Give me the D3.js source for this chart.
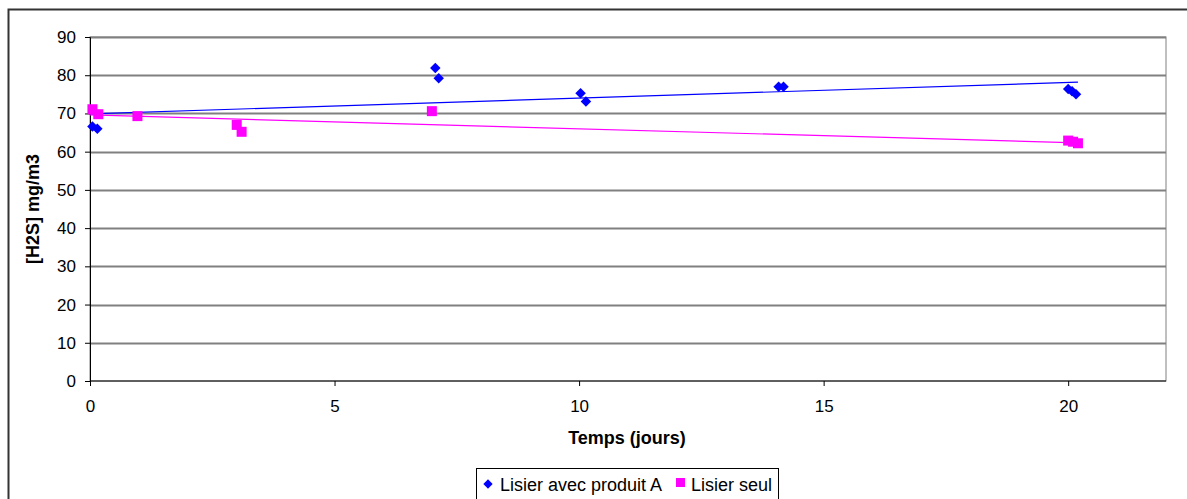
<!DOCTYPE html>
<html>
<head>
<meta charset="utf-8">
<script src="https://cdn.jsdelivr.net/npm/d3@7"></script>
<style>
  html, body { margin: 0; padding: 0; background: #fff; }
  svg { display: block; font-family: "Liberation Sans", Arial, sans-serif; }
</style>
</head>
<body>
<svg id="chart" width="1187" height="499"></svg>
<script>
// H2S concentration over time, slurry with product A vs slurry alone
const produitA_jours = [0.05, 0.15, 7.06, 7.13, 10.03, 10.14, 14.08, 14.18, 20.0, 20.08, 20.16];
const produitA_h2s   = [66.6, 66.0, 81.9, 79.2, 75.3, 73.1, 77.0, 77.0, 76.4, 75.8, 75.0];
const seul_jours = [0.05, 0.17, 0.97, 3.0, 3.1, 6.99, 20.0, 20.1, 20.2];
const seul_h2s   = [71.1, 69.8, 69.3, 67.0, 65.2, 70.6, 62.9, 62.6, 62.2];

// linear trend end points (day 0 and day 20.2)
const trendJours = [0, 20.2];
const produitA_trend = [69.9, 78.2];
const seul_trend = [69.6, 62.3];

const yTicks = [0, 10, 20, 30, 40, 50, 60, 70, 80, 90];
const xTicks = [0, 5, 10, 15, 20];

const seriesNames = ["Lisier avec produit A", "Lisier seul"];
const colors = ["#0000ff", "#ff00ff"];

const FONT = "Liberation Sans, Arial, sans-serif";
const svg = d3.select("#chart");

// outer chart frame
svg.append("rect")
  .attr("x", 8.5).attr("y", 9.5)
  .attr("width", 1200).attr("height", 520)
  .attr("fill", "none").attr("stroke", "#333").attr("stroke-width", 2);

const x = d3.scaleLinear().domain([0, 22]).range([90, 1166]);
const y = d3.scaleLinear().domain([0, 90]).range([381, 37]);

// plot area border
svg.append("rect")
  .attr("x", x(0)).attr("y", y(90))
  .attr("width", x(22) - x(0)).attr("height", y(0) - y(90))
  .attr("fill", "none").attr("stroke", "#808080").attr("stroke-width", 1);

// horizontal gridlines
svg.append("g").selectAll("line")
  .data(yTicks.filter(d => d > 0))
  .join("line")
  .attr("x1", x(0)).attr("x2", x(22))
  .attr("y1", d => Math.round(y(d)) + 0.5).attr("y2", d => Math.round(y(d)) + 0.5)
  .attr("stroke", "#808080").attr("stroke-width", 2);

// y axis
const yAxis = d3.axisLeft(y).tickValues(yTicks).tickSize(5).tickPadding(9);
const gy = svg.append("g").attr("transform", `translate(${x(0)},0)`).call(yAxis);
gy.select(".domain").attr("stroke", "#000");
gy.selectAll(".tick line").attr("stroke", "#000");
gy.selectAll("text").attr("font-size", 17).attr("fill", "#000").attr("font-family", FONT);

// x axis
const xAxis = d3.axisBottom(x).tickValues(xTicks).tickSize(5).tickPadding(14);
const gx = svg.append("g").attr("transform", `translate(0,${y(0)})`).call(xAxis);
gx.select(".domain").attr("stroke", "#000").attr("d", `M${x(0)},0H${x(22)}`);
gx.selectAll(".tick line").attr("stroke", "#000");
gx.selectAll("text").attr("font-size", 17).attr("fill", "#000").attr("font-family", FONT);

// axis titles
svg.append("text")
  .attr("x", 627).attr("y", 444)
  .attr("text-anchor", "middle").attr("font-size", 18).attr("font-weight", "bold")
  .text("Temps (jours)");
svg.append("text")
  .attr("transform", `translate(39,${(y(0) + y(90)) / 2}) rotate(-90)`)
  .attr("text-anchor", "middle").attr("font-size", 18).attr("font-weight", "bold")
  .text("[H2S] mg/m3");

// trend lines
const line = d3.line().x(d => x(d[0])).y(d => y(d[1]));
svg.append("path")
  .attr("d", line(d3.zip(trendJours, produitA_trend)))
  .attr("stroke", colors[0]).attr("stroke-width", 1.2).attr("fill", "none");
svg.append("path")
  .attr("d", line(d3.zip(trendJours, seul_trend)))
  .attr("stroke", colors[1]).attr("stroke-width", 1.2).attr("fill", "none");

// markers
const diamond = d3.symbol().type(d3.symbolDiamond2).size(70);
svg.append("g").selectAll("path")
  .data(d3.zip(produitA_jours, produitA_h2s))
  .join("path")
  .attr("d", diamond)
  .attr("transform", d => `translate(${x(d[0])},${y(d[1])})`)
  .attr("fill", colors[0]);

const sq = 10;
svg.append("g").selectAll("rect")
  .data(d3.zip(seul_jours, seul_h2s))
  .join("rect")
  .attr("x", d => x(d[0]) - sq / 2).attr("y", d => y(d[1]) - sq / 2)
  .attr("width", sq).attr("height", sq)
  .attr("fill", colors[1]);

// legend
const lg = svg.append("g");
lg.append("rect")
  .attr("x", 476.5).attr("y", 468.5).attr("width", 302).attr("height", 40)
  .attr("fill", "#fff").attr("stroke", "#000");
lg.append("path")
  .attr("d", d3.symbol().type(d3.symbolDiamond2).size(55))
  .attr("transform", "translate(488,484)").attr("fill", colors[0]);
lg.append("text").attr("x", 500).attr("y", 491).attr("font-size", 18).attr("font-family", FONT)
  .text(seriesNames[0]);
lg.append("rect").attr("x", 676).attr("y", 478).attr("width", 9).attr("height", 9).attr("fill", colors[1]);
lg.append("text").attr("x", 691).attr("y", 491).attr("font-size", 18).attr("font-family", FONT)
  .text(seriesNames[1]);
</script>
</body>
</html>
